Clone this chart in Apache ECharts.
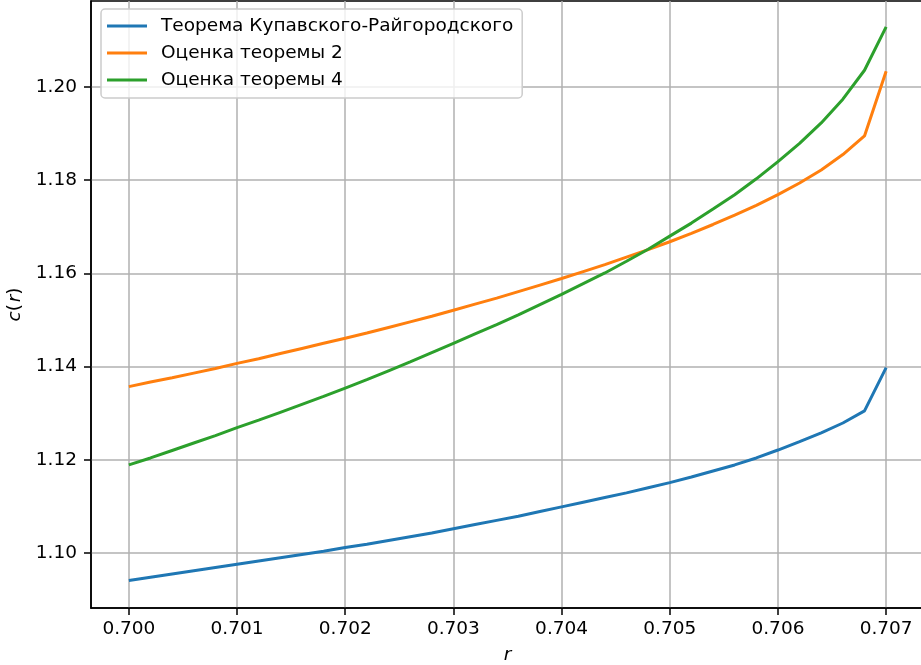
<!DOCTYPE html>
<html>
<head>
<meta charset="utf-8">
<script src="https://cdn.jsdelivr.net/npm/echarts@6/dist/echarts.min.js"></script>
<style>
  html, body { margin: 0; padding: 0; background: #fff; }
  #chart { width: 921px; height: 665px; }
</style>
</head>
<body>
<div id="chart"></div>
<script>
// r values, step 0.0002
const rValues = [
  0.7000, 0.7002, 0.7004, 0.7006, 0.7008, 0.7010, 0.7012, 0.7014, 0.7016, 0.7018,
  0.7020, 0.7022, 0.7024, 0.7026, 0.7028, 0.7030, 0.7032, 0.7034, 0.7036, 0.7038,
  0.7040, 0.7042, 0.7044, 0.7046, 0.7048, 0.7050, 0.7052, 0.7054, 0.7056, 0.7058,
  0.7060, 0.7062, 0.7064, 0.7066, 0.7068, 0.7070
];
const kupavskii = [
  1.0941, 1.0948, 1.0955, 1.0962, 1.0969, 1.0976, 1.0983, 1.0990, 1.0997, 1.1004,
  1.1012, 1.1019, 1.1027, 1.1035, 1.1043, 1.1052, 1.1061, 1.1070, 1.1079, 1.1089,
  1.1099, 1.1109, 1.1119, 1.1129, 1.1140, 1.1151, 1.1163, 1.1176, 1.1189, 1.1204,
  1.1221, 1.1239, 1.1258, 1.1279, 1.1305, 1.1398
];
const theorem2 = [
  1.1357, 1.1367, 1.1376, 1.1386, 1.1396, 1.1407, 1.1417, 1.1428, 1.1439, 1.1450,
  1.1461, 1.1472, 1.1484, 1.1496, 1.1508, 1.1521, 1.1534, 1.1547, 1.1561, 1.1575,
  1.1589, 1.1604, 1.1619, 1.1635, 1.1651, 1.1668, 1.1686, 1.1705, 1.1725, 1.1746,
  1.1769, 1.1794, 1.1822, 1.1855, 1.1895, 1.2034
];
const theorem4 = [
  1.1189, 1.1204, 1.1220, 1.1236, 1.1252, 1.1269, 1.1285, 1.1302, 1.1319, 1.1336,
  1.1354, 1.1372, 1.1391, 1.1410, 1.1430, 1.1450, 1.1470, 1.1490, 1.1511, 1.1533,
  1.1555, 1.1578, 1.1601, 1.1626, 1.1652, 1.1680, 1.1708, 1.1738, 1.1769, 1.1803,
  1.1840, 1.1879, 1.1923, 1.1974, 1.2036, 1.2129
];
const seriesNames = ['Теорема Купавского-Райгородского', 'Оценка теоремы 2', 'Оценка теоремы 4'];
const xTicks = [0.700, 0.701, 0.702, 0.703, 0.704, 0.705, 0.706, 0.707];
const yTicks = [1.10, 1.12, 1.14, 1.16, 1.18, 1.20];

const colors = ['#1f77b4', '#ff7f0e', '#2ca02c'];
const font = 'DejaVu Sans';
const fs = 18.5;

const chart = echarts.init(document.getElementById('chart'));

const toPairs = ys => rValues.map((r, i) => [r, ys[i]]);

const option = {
  animation: false,
  backgroundColor: '#fff',
  color: colors,
  textStyle: { fontFamily: font },
  grid: {
    left: 91, right: -3, top: 1, bottom: 57,
    outerBoundsMode: 'none',
    containLabel: false,
    show: true, borderColor: '#000', borderWidth: 1.5, backgroundColor: 'transparent'
  },
  legend: {
    orient: 'vertical',
    left: 101, top: 9,
    padding: [7, 9, 8, 6],
    itemWidth: 40, itemHeight: 3, itemGap: 7,
    icon: 'rect',
    backgroundColor: 'rgba(255,255,255,0.8)',
    borderColor: '#cccccc', borderWidth: 1.5, borderRadius: 4,
    textStyle: { fontFamily: font, fontSize: fs, color: '#000', lineHeight: 20, padding: [0, 0, 0, 9] },
    data: seriesNames
  },
  xAxis: {
    type: 'value',
    min: 0.69965, max: 0.70735,
    name: '{i|r}',
    nameLocation: 'middle', nameGap: 38,
    nameTextStyle: { rich: { i: { fontStyle: 'italic', fontSize: fs, fontFamily: font, color: '#000' } } },
    axisLine: { show: true, onZero: false, lineStyle: { color: '#000', width: 1.5 } },
    axisTick: { show: true, length: 7, customValues: xTicks, lineStyle: { color: '#000', width: 1.5 } },
    axisLabel: {
      customValues: xTicks, margin: 12, fontSize: fs, color: '#000', fontFamily: font,
      formatter: v => v.toFixed(3)
    },
    splitLine: { show: true, lineStyle: { color: '#b0b0b0', width: 1.5 } }
  },
  yAxis: {
    type: 'value',
    min: 1.0882, max: 1.21846,
    name: '{i|c}(\u200a{i|r})',
    nameLocation: 'middle', nameGap: 60, nameRotate: 90,
    nameTextStyle: { fontSize: fs, color: '#000', rich: { i: { fontStyle: 'italic', fontSize: fs, fontFamily: font, color: '#000' } } },
    axisLine: { show: true, onZero: false, lineStyle: { color: '#000', width: 1.5 } },
    axisTick: { show: true, length: 7, customValues: yTicks, lineStyle: { color: '#000', width: 1.5 } },
    axisLabel: {
      customValues: yTicks, margin: 14, fontSize: fs, color: '#000', fontFamily: font,
      formatter: v => v.toFixed(2)
    },
    splitLine: { show: true, lineStyle: { color: '#b0b0b0', width: 1.5 } }
  },
  series: [kupavskii, theorem2, theorem4].map((ys, i) => ({
    name: seriesNames[i],
    type: 'line',
    showSymbol: false,
    symbol: 'none',
    lineStyle: { width: 3, color: colors[i] },
    itemStyle: { color: colors[i] },
    data: toPairs(ys)
  }))
};

chart.setOption(option);
</script>
</body>
</html>
